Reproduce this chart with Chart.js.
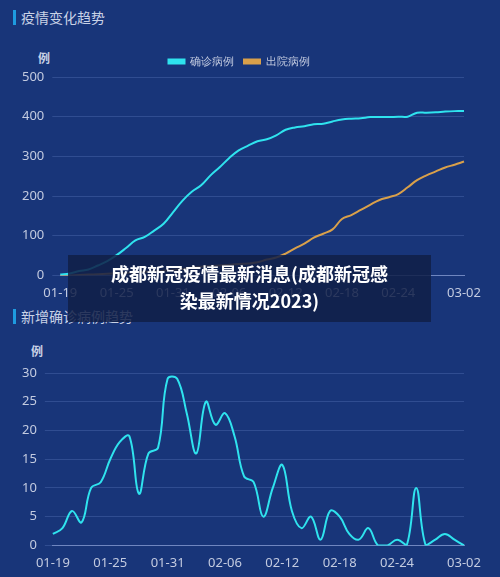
<!DOCTYPE html>
<html>
<head>
<meta charset="utf-8">
<script src="https://cdn.jsdelivr.net/npm/chart.js@4/dist/chart.umd.min.js"></script>
<style>
  body { margin: 0; background: #183579; font-family: "Noto Sans CJK SC", sans-serif; }
  #wrap { position: relative; width: 500px; height: 577px; overflow: hidden; }
  .title { position: absolute; left: 13px; font-size: 14px; color: #c9d2e6; border-left: 3px solid #1e9be0; padding-left: 5px; line-height: 15px; }
  .unit { position: absolute; font-size: 12px; color: #c9d2e6; font-weight: bold; }
  canvas { position: absolute; left: 0; }
  #overlay { position: absolute; left: 68px; top: 255px; width: 363px; height: 67px; background: rgba(16,30,70,0.85);
    color: #fff; font-weight: bold; font-size: 18px; text-align: center; line-height: 27px; padding-top: 5px; box-sizing: border-box; }
</style>
</head>
<body>
<div id="wrap">
  <div class="title" style="top:10px">疫情变化趋势</div>
  <div class="unit" style="left:38px;top:49px">例</div>
  <div style="position:absolute;left:0;top:0;width:500px;height:303px"><canvas id="topChart"></canvas></div>
  <div class="title" style="top:309px">新增确诊病例趋势</div>
  <div class="unit" style="left:31px;top:342px">例</div>
  <div style="position:absolute;left:0;top:330px;width:500px;height:247px"><canvas id="bottomChart"></canvas></div>
  <div id="overlay">成都新冠疫情最新消息(成都新冠感<br>染最新情况2023)</div>
</div>
<script>
// 日期 01-19 ~ 03-02
const dias = ["01-19","01-20","01-21","01-22","01-23","01-24","01-25","01-26","01-27","01-28","01-29","01-30",
  "01-31","02-01","02-02","02-03","02-04","02-05","02-06","02-07","02-08","02-09","02-10","02-11",
  "02-12","02-13","02-14","02-15","02-16","02-17","02-18","02-19","02-20","02-21","02-22","02-23",
  "02-24","02-25","02-26","02-27","02-28","02-29","03-01","03-02"];

const confirmados = [2,5,11,15,25,36,51,69,88,97,113,130,159,188,211,227,252,273,296,315,327,338,343,353,
  367,373,376,381,382,388,393,395,396,399,399,399,400,400,410,410,411,413,414,414];

const altas = [0,0,1,2,3,4,5,6,8,9,10,12,14,16,20,22,24,25,27,29,30,33,40,45,55,68,80,95,105,116,
  142,152,165,178,190,197,205,222,240,252,262,272,279,287];

const novos = [2,3,6,4,10,11,15,18,19,9,16,17,29,29,23,16,25,21,23,19,12,11,5,10,14,6,3,5,1,6,
  5,2,1,3,0,0,1,0,10,0,1,2,1,0];

const tickTopo = [0, 100, 200, 300, 400, 500];
const tickNovos = [0, 5, 10, 15, 20, 25, 30];

const corTexto = "#c3cbe0";
const corGrade = "rgba(120,150,220,0.25)";

function eixoX() {
  return {
    grid: { display: false },
    border: { color: "#6f86c0" },
    ticks: {
      color: corTexto, font: { size: 13, family: "Noto Sans" }, autoSkip: false, maxRotation: 0, padding: 2,
      callback: (v, i) => (i % 6 === 0 && i < 42) || i === dias.length - 1 ? dias[i] : ""
    }
  };
}

function eixoY(lista) {
  return {
    min: lista[0], max: lista[lista.length - 1],
    afterBuildTicks: ax => { ax.ticks = lista.map(v => ({ value: v })); },
    grid: { color: corGrade }, border: { display: false },
    ticks: { color: corTexto, font: { size: 13, family: "Noto Sans" }, padding: 8 }
  };
}

new Chart(document.getElementById("topChart"), {
  type: "line",
  data: {
    labels: dias,
    datasets: [
      { label: "确诊病例", data: confirmados, borderColor: "#2fe3ee", backgroundColor: "#2fe3ee", borderWidth: 2, pointRadius: 0, tension: 0.4 },
      { label: "出院病例", data: altas, borderColor: "#d9a04a", backgroundColor: "#d9a04a", borderWidth: 2, pointRadius: 0, tension: 0.4 }
    ]
  },
  options: {
    responsive: true, maintainAspectRatio: false, animation: false,
    layout: { padding: { top: 46, right: 36, left: 14 } },
    plugins: {
      legend: { labels: { color: corTexto, boxWidth: 16, boxHeight: 4, font: { size: 11 } } },
      tooltip: { enabled: false }
    },
    scales: { x: eixoX(), y: eixoY(tickTopo) }
  }
});

new Chart(document.getElementById("bottomChart"), {
  type: "line",
  data: {
    labels: dias,
    datasets: [
      { label: "新增确诊", data: novos, borderColor: "#2fe3ee", borderWidth: 2, pointRadius: 0, tension: 0.4 }
    ]
  },
  options: {
    responsive: true, maintainAspectRatio: false, animation: false,
    layout: { padding: { top: 43, right: 36, left: 14, bottom: 4 } },
    plugins: { legend: { display: false }, tooltip: { enabled: false } },
    scales: { x: eixoX(), y: eixoY(tickNovos) }
  }
});
</script>
</body>
</html>
